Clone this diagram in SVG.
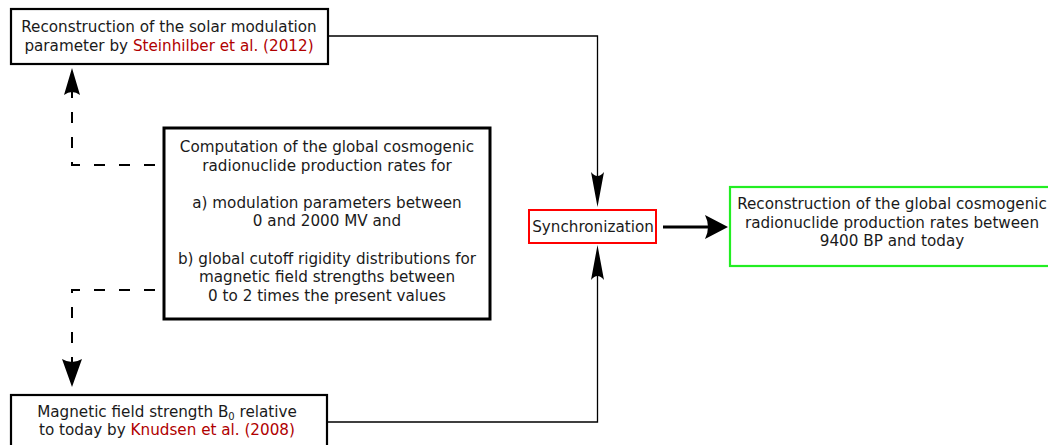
<svg xmlns="http://www.w3.org/2000/svg" width="1048" height="445" viewBox="0 0 1048 445">
  <style>
    .box { fill: #ffffff; stroke: #000000; }
    .lbl { font-family: "DejaVu Sans", sans-serif; font-size: 15.2px; fill: #1a1a1a; text-anchor: middle; }
    .ref { fill: #b00000; }
    .wire { fill: none; stroke: #000000; stroke-width: 1.3; }
    .dash { fill: none; stroke: #000000; stroke-width: 2; stroke-dasharray: 11 14; }
    .head { fill: #000000; stroke: none; }
  </style>

  <!-- solar modulation input -->
  <g id="solar">
    <rect class="box" x="11" y="9" width="317" height="55" style="stroke-width:2.2"/>
    <text class="lbl" x="169" y="32">Reconstruction of the solar modulation</text>
    <text class="lbl" x="169" y="51">parameter by <tspan class="ref">Steinhilber et al. (2012)</tspan></text>
  </g>

  <!-- production rate computation -->
  <g id="computation">
    <rect class="box" x="164" y="128" width="326" height="191" style="stroke-width:3"/>
    <text class="lbl" x="327" y="152">Computation of the global cosmogenic</text>
    <text class="lbl" x="327" y="171">radionuclide production rates for</text>
    <text class="lbl" x="327" y="208">a) modulation parameters between</text>
    <text class="lbl" x="327" y="226">0 and 2000 MV and</text>
    <text class="lbl" x="327" y="264">b) global cutoff rigidity distributions for</text>
    <text class="lbl" x="327" y="282">magnetic field strengths between</text>
    <text class="lbl" x="327" y="301">0 to 2 times the present values</text>
  </g>

  <!-- geomagnetic field input -->
  <g id="magnetic">
    <rect class="box" x="11" y="395" width="316" height="60" style="stroke-width:2.2"/>
    <text class="lbl" x="167" y="417">Magnetic field strength B<tspan font-size="10" dy="3">0</tspan><tspan dy="-3"> relative</tspan></text>
    <text class="lbl" x="167" y="435">to today by <tspan class="ref">Knudsen et al. (2008)</tspan></text>
  </g>

  <!-- synchronization step -->
  <g id="sync">
    <rect class="box" x="529" y="210" width="127" height="33" style="stroke:#ff0000;stroke-width:2"/>
    <text class="lbl" x="593" y="232">Synchronization</text>
  </g>

  <!-- final reconstruction -->
  <g id="result">
    <rect class="box" x="730" y="187" width="330" height="79" style="stroke:#22ee22;stroke-width:2.2"/>
    <text class="lbl" x="892" y="209">Reconstruction of the global cosmogenic</text>
    <text class="lbl" x="892" y="228">radionuclide production rates between</text>
    <text class="lbl" x="892" y="246">9400 BP and today</text>
  </g>

  <g id="connectors">
    <!-- solar -> sync -->
    <path class="wire" d="M329,36 H597.5 V182"/>
    <path class="head" d="M597.5,207 L591,172 Q597.5,180 604,172 Z"/>
    <!-- magnetic -> sync -->
    <path class="wire" d="M328,422 H597.5 V270"/>
    <path class="head" d="M597.5,245 L591,280 Q597.5,272 604,280 Z"/>
    <!-- sync -> result -->
    <path fill="none" stroke="#000" stroke-width="3" d="M663,227 H712"/>
    <path class="head" d="M728,227 L705,215 Q711,227 705,239 Z"/>
    <!-- computation -> solar (dashed) -->
    <path class="dash" d="M155,165 H72 V90"/>
    <path class="head" d="M72,68 L64,95 Q72,89 80,95 Z"/>
    <!-- computation -> magnetic (dashed) -->
    <path class="dash" d="M155,290 H72 V362"/>
    <path class="head" d="M72,387 L62,359 Q72,365 82,359 Z"/>
  </g>
</svg>
